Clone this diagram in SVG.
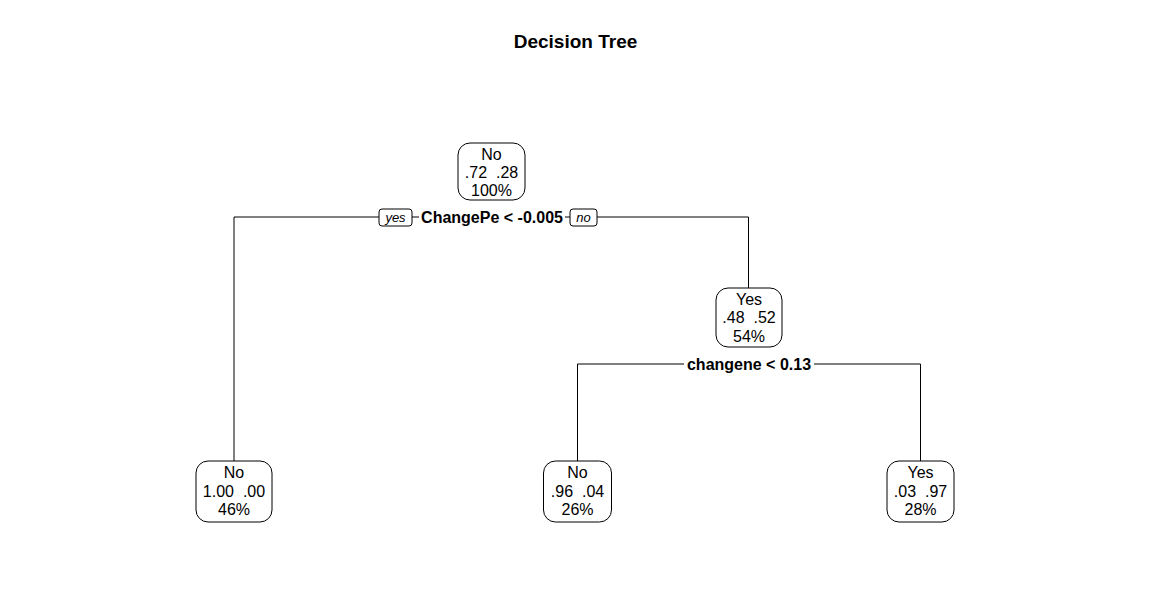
<svg xmlns="http://www.w3.org/2000/svg" width="1152" height="606" viewBox="0 0 1152 606">
<style>
.bg{fill:#ffffff}
.node rect{fill:#ffffff;stroke:#000000;stroke-width:1}
.node text{font-family:"Liberation Sans",Arial,sans-serif;font-size:16px;fill:#000000;text-anchor:middle}
.conn line,.conn polyline{fill:none;stroke:#000000;stroke-width:1}
.split{font-family:"Liberation Sans",Arial,sans-serif;font-size:16px;font-weight:bold;fill:#000000;text-anchor:middle}
.yn rect{fill:#ffffff;stroke:#000000;stroke-width:1}
.yn text{font-family:"Liberation Sans",Arial,sans-serif;font-size:13px;font-style:italic;fill:#000000;text-anchor:middle}
.title{font-family:"Liberation Sans",Arial,sans-serif;font-size:19px;font-weight:bold;fill:#000000;text-anchor:middle}
</style>
<rect class="bg" x="0" y="0" width="1152" height="606"/>
<text class="title" x="575.5" y="48">Decision Tree</text>

<g id="connectors" class="conn">
  <polyline points="234,461 234,217 379,217"/>
  <line x1="412" y1="217" x2="419" y2="217"/>
  <line x1="565" y1="217" x2="570" y2="217"/>
  <polyline points="597,217 748.5,217 748.5,288"/>
  <polyline points="577.5,461 577.5,364 684,364"/>
  <polyline points="814,364 920.5,364 920.5,461"/>
</g>

<g id="split-labels">
  <text class="split" x="492" y="223">ChangePe &lt; -0.005</text>
  <text class="split" x="749" y="369.5">changene &lt; 0.13</text>
  <g class="yn" id="label-yes">
    <rect x="379" y="209" width="33" height="17" rx="3" ry="3"/>
    <text x="395.5" y="222">yes</text>
  </g>
  <g class="yn" id="label-no">
    <rect x="570" y="209" width="27" height="17" rx="3" ry="3"/>
    <text x="583.5" y="222">no</text>
  </g>
</g>

<g id="node-root" class="node">
  <rect x="458" y="143" width="67" height="57" rx="12" ry="12"/>
  <text x="491.5" y="160">No</text>
  <text x="491.5" y="178" xml:space="preserve">.72  .28</text>
  <text x="491.5" y="196">100%</text>
</g>

<g id="node-2" class="node">
  <rect x="716" y="288" width="66" height="59" rx="12" ry="12"/>
  <text x="749" y="304.5">Yes</text>
  <text x="749" y="323" xml:space="preserve">.48  .52</text>
  <text x="749" y="341.5">54%</text>
</g>

<g id="leaf-left" class="node">
  <rect x="196" y="461" width="76" height="61" rx="12" ry="12"/>
  <text x="234" y="478">No</text>
  <text x="234" y="496.5" xml:space="preserve">1.00  .00</text>
  <text x="234" y="515">46%</text>
</g>

<g id="leaf-mid" class="node">
  <rect x="543.5" y="461" width="68" height="61" rx="12" ry="12"/>
  <text x="577.5" y="478">No</text>
  <text x="577.5" y="496.5" xml:space="preserve">.96  .04</text>
  <text x="577.5" y="515">26%</text>
</g>

<g id="leaf-right" class="node">
  <rect x="887" y="461" width="67" height="61" rx="12" ry="12"/>
  <text x="920.5" y="478">Yes</text>
  <text x="920.5" y="496.5" xml:space="preserve">.03  .97</text>
  <text x="920.5" y="515">28%</text>
</g>
</svg>
